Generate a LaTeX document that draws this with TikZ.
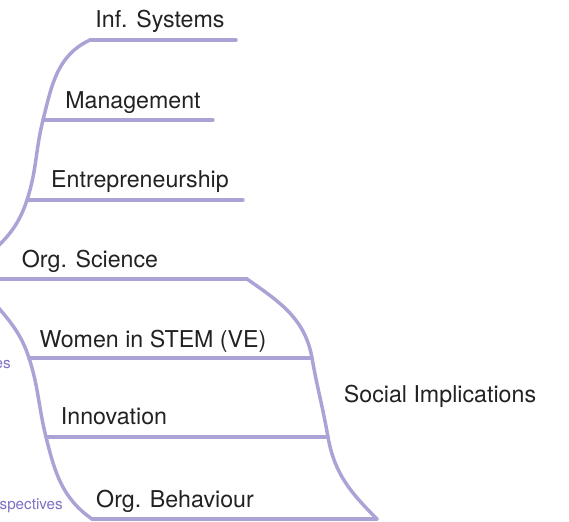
\documentclass[tikz,border=0pt]{standalone}
\usepackage{fontspec}
\setmainfont{TeX Gyre Heros}
\usetikzlibrary{positioning}
\definecolor{branchcol}{HTML}{A9A3D6}
\definecolor{tagcol}{HTML}{7C70C4}
\definecolor{inkcol}{HTML}{222222}

\begin{document}
\begin{tikzpicture}
%defines
  [x=0.75pt,y=-0.75pt,
topic/.style={anchor=base,inner sep=0pt,text=inkcol,
font=\fontsize{17.4}{20}\selectfont},
faded/.style={anchor=base east,inner sep=0pt,text=tagcol,
font=\fontsize{11.4}{13}\selectfont},
branch/.style={draw=branchcol,line width=2.6pt,line cap=round}]
\useasboundingbox (0,0) rectangle (569,522);
\clip (0,0) rectangle (569,522);
%line ends
\coordinate (inf a) at (90,40);   \coordinate (inf b) at (236,40);
\coordinate (mgt a) at (43,120);  \coordinate (mgt b) at (213,120);
\coordinate (ent a) at (27,200);  \coordinate (ent b) at (243,200);
\coordinate (org a) at (-5,279);  \coordinate (org b) at (247,279);
\coordinate (wom a) at (29,358);  \coordinate (wom b) at (312,358);
\coordinate (inn a) at (46,437);  \coordinate (inn b) at (328,437);
\coordinate (beh a) at (92,519);  \coordinate (beh b) at (377,519);
\coordinate (top end) at (-15,258);
\coordinate (left end) at (-8,300);
%underlines
\draw[branch] (inf a) -- (inf b);
\draw[branch] (mgt a) -- (mgt b);
\draw[branch] (ent a) -- (ent b);
\draw[branch] (org a) -- (org b);
\draw[branch] (wom a) -- (wom b);
\draw[branch] (inn a) -- (inn b);
\draw[branch] (beh a) -- (beh b);
%curves
\draw[branch] (inf a) to[out=205,in=76] (mgt a) to[out=256,in=72] (ent a)
  to[out=252,in=41] (top end);
\draw[branch] (org b) to[out=-35,in=100] (wom b) to[out=-80,in=100] (inn b)
  to[out=-80,in=135] (beh b);
\draw[branch] (left end) to[out=-50,in=108] (wom a) to[out=-72,in=104] (inn a)
  to[out=-76,in=145] (beh a);
%labels
\node[topic] (inf systems) at (160,27) {Inf. Systems};
\node[topic] (management) at (133,108) {Management};
\node[topic] (entrepreneurship) at (140,187) {Entrepreneurship};
\node[topic] (org science) at (90,267) {Org. Science};
\node[topic] (women stem) at (153,347) {Women in STEM (VE)};
\node[topic] (innovation) at (114,424) {Innovation};
\node[topic] (org behaviour) at (175,507) {Org. Behaviour};
\node[topic] (social implications) at (440,402) {Social Implications};
\node[faded] (left upper) at (11,368) {es};
\node[faded] (left lower) at (63,509) {spectives};
\end{tikzpicture}
\end{document}
